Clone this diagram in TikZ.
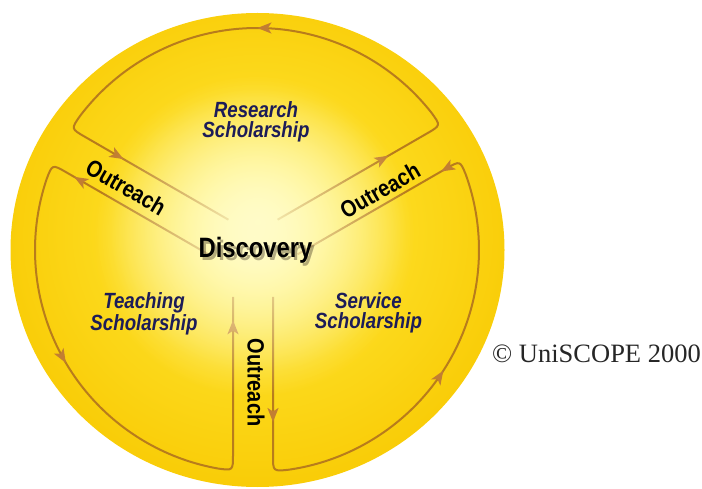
\documentclass[tikz,border=0pt]{standalone}
\usepackage{fontspec}
\usepackage{tikz}
\usetikzlibrary{positioning}
\usetikzlibrary{arrows.meta,decorations.markings,fadings}
\newfontfamily\labelfont[FakeStretch=0.85]{Liberation Sans}
\newfontfamily\notefont{Liberation Serif}
\definecolor{glowA}{HTML}{FFFCC8}
\definecolor{glowB}{HTML}{FFF27E}
\definecolor{goldA}{HTML}{FCDA1E}
\definecolor{goldB}{HTML}{F8C800}
\definecolor{goldC}{HTML}{F2B800}
\definecolor{goldD}{HTML}{E4A200}
\definecolor{ringcol}{RGB}{184,124,28}
\definecolor{tipcol}{RGB}{194,126,50}
\definecolor{navy}{HTML}{1C1C58}
\pgfdeclareradialshading{discshade}{\pgfpoint{0bp}{3bp}}{color(0bp)=(glowA); color(6bp)=(glowB); color(15bp)=(goldA); color(30bp)=(goldB); color(45bp)=(goldC); color(50bp)=(goldD)}
\tikzfading[name=glowfade, inner color=transparent!0, outer color=transparent!100]

\begin{document}
\begin{tikzpicture}[x=1pt, y=1pt, >={Stealth[length=14pt,width=11pt,inset=3.5pt]},
    ringline/.style = {draw=ringcol, line width=2pt, postaction={decorate}},
    flow/.style n args = {3}{decoration={markings,
        mark=at position #1 with {\arrow[tipcol]{>}},
        mark=at position #2 with {\arrow[tipcol]{>}},
        mark=at position #3 with {\arrow[tipcol]{>}}}},
    scholar/.style = {font=\labelfont\bfseries\itshape\fontsize{22}{20}\selectfont, text=navy, align=center, inner sep=0pt},
    reach/.style = {font=\labelfont\bfseries\fontsize{23.5}{24}\selectfont, inner sep=0pt},
    disco/.style = {font=\labelfont\bfseries\fontsize{28}{30}\selectfont, inner sep=0pt, anchor=base}]
    \useasboundingbox (0,0) rectangle (702,488);
    % Disc
    \shade[shading=discshade] (257.5,238) ellipse [x radius=247, y radius=237];
    % Rings
    \begin{scope}[shift={(257,238)}]
        \draw[ringline, flow={128pt}{401pt}{679pt}] (20.6,30.3) -- (169.9,116.5)
            .. controls (183.8,124.5) .. (38.2:222) arc[start angle=38.2, end angle=142.8, radius=222]
            .. controls (-186,121.2) .. (-172.1,113.2) -- (-28.6,30.3);
        \draw[ringline, flow={155pt}{383pt}{736pt}] (-48.6,-4.3) -- (-190.9,77.8)
            .. controls (-204.75,85.8) .. (161.4:222) arc[start angle=161.4, end angle=259.7, radius=222]
            .. controls (-24,-220.7) .. (-24,-204.7) -- (-24,-47);
        \draw[ringline, flow={125pt}{376pt}{614pt}] (16,-47) -- (16,-205.4)
            .. controls (16,-221.4) .. (278.2:222) arc[start angle=278.2, end angle=379.7, radius=222]
            .. controls (203.15,89.5) .. (189.3,81.5) -- (40.6,-4.3);
    \end{scope}
    % Glow
    \fill[glowA, path fading=glowfade] (254,252) circle [radius=160];
    % Nodes
    \node[scholar] (research) at (256,365.7) {Research\\Scholarship};
    \node[scholar] (teaching) at (144,174) {Teaching\\Scholarship};
    \node[scholar] (service) at (368.5,175) {Service\\Scholarship};
    \node[reach, rotate=-30] (reach1) at (126,301) {Outreach};
    \node[reach, rotate=30] (reach2) at (380,297.5) {Outreach};
    \node[reach, rotate=-90] (reach3) at (256,105.5) {Outreach};
    \node[disco, text=black!80!brown, text opacity=0.35] (shadow) at (258,227.5) {Discovery};
    \node[disco] (discovery) at (255.5,230) {Discovery};
    \node[font=\notefont\fontsize{26.5}{28}\selectfont, text=black!85, anchor=base west, inner sep=0pt] (note) at (492,126) {© UniSCOPE 2000};
\end{tikzpicture}
\end{document}
